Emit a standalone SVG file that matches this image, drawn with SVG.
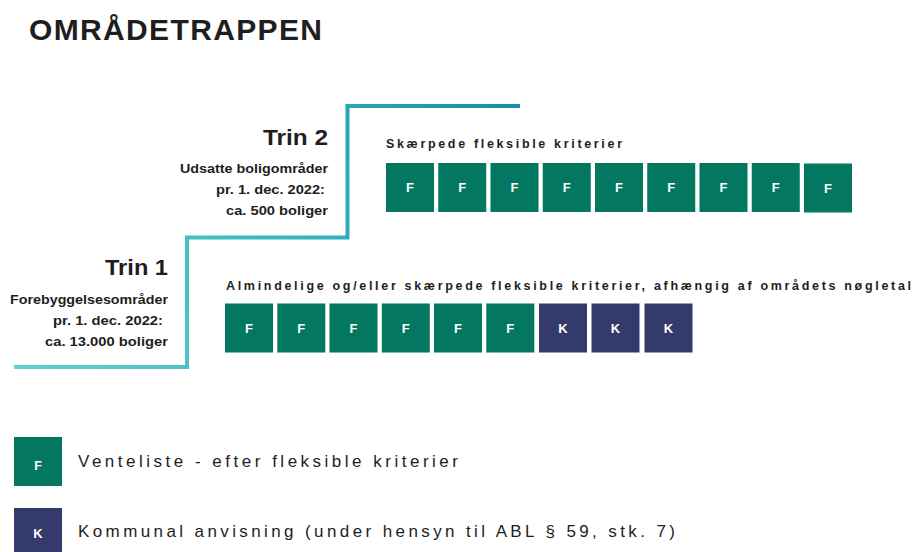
<svg xmlns="http://www.w3.org/2000/svg" width="913" height="552" viewBox="0 0 913 552">
<defs>
<linearGradient id="stairGrad" gradientUnits="userSpaceOnUse" x1="14" y1="367" x2="520" y2="106">
<stop offset="0" stop-color="#5fd1cf"/>
<stop offset="0.45" stop-color="#3fbcc2"/>
<stop offset="1" stop-color="#148fa7"/>
</linearGradient>
<style>
text{font-family:"Liberation Sans",Arial,sans-serif;fill:#1e1e1e}
.title{font-size:30px;font-weight:bold}
.trin{font-size:22px;font-weight:bold}
.desc{font-size:13.5px;font-weight:bold}
.hdr{font-size:12.5px;font-weight:bold}
.leg{font-size:17px}
.f{fill:#03775f}
.k{fill:#353a6c}
.bl{fill:#ffffff;font-size:13px;font-weight:bold;text-anchor:middle}
.stair{fill:none;stroke:url(#stairGrad);stroke-width:4;stroke-linejoin:miter}
</style>
<rect id="boxF" class="f" width="48" height="49"/>
<rect id="boxK" class="k" width="48" height="49"/>
</defs>
<rect width="913" height="552" fill="#ffffff"/>
<text class="title" x="29" y="40" textLength="293" lengthAdjust="spacing">OMRÅDETRAPPEN</text>

<g id="connectors">
<path class="stair" d="M14,367 H187 V237.5 H347.5 V106 H520"/>
</g>

<g id="trin2-label">
<text class="trin" x="263" y="145" textLength="65" lengthAdjust="spacingAndGlyphs">Trin 2</text>
<text class="desc" x="180" y="173" textLength="148" lengthAdjust="spacingAndGlyphs">Udsatte boligområder</text>
<text class="desc" x="216" y="194" textLength="109" lengthAdjust="spacingAndGlyphs">pr. 1. dec. 2022:</text>
<text class="desc" x="226" y="215" textLength="102" lengthAdjust="spacingAndGlyphs">ca. 500 boliger</text>
</g>

<g id="trin1-label">
<text class="trin" x="105" y="275" textLength="63" lengthAdjust="spacingAndGlyphs">Trin 1</text>
<text class="desc" x="10" y="304" textLength="158" lengthAdjust="spacingAndGlyphs">Forebyggelsesområder</text>
<text class="desc" x="53" y="325" textLength="110" lengthAdjust="spacingAndGlyphs">pr. 1. dec. 2022:</text>
<text class="desc" x="45" y="346" textLength="123" lengthAdjust="spacingAndGlyphs">ca. 13.000 boliger</text>
</g>

<g id="trin2-row">
<text class="hdr" x="386" y="148" textLength="236" lengthAdjust="spacing">Skærpede fleksible kriterier</text>
<g id="t2-b1"><use href="#boxF" x="386" y="163"/><text class="bl" x="410" y="192">F</text></g>
<g id="t2-b2"><use href="#boxF" x="438.25" y="163"/><text class="bl" x="462.25" y="192">F</text></g>
<g id="t2-b3"><use href="#boxF" x="490.5" y="163"/><text class="bl" x="514.5" y="192">F</text></g>
<g id="t2-b4"><use href="#boxF" x="542.75" y="163"/><text class="bl" x="566.75" y="192">F</text></g>
<g id="t2-b5"><use href="#boxF" x="595" y="163"/><text class="bl" x="619" y="192">F</text></g>
<g id="t2-b6"><use href="#boxF" x="647.25" y="163"/><text class="bl" x="671.25" y="192">F</text></g>
<g id="t2-b7"><use href="#boxF" x="699.5" y="163"/><text class="bl" x="723.5" y="192">F</text></g>
<g id="t2-b8"><use href="#boxF" x="751.75" y="163"/><text class="bl" x="775.75" y="192">F</text></g>
<g id="t2-b9"><use href="#boxF" x="804" y="163.5"/><text class="bl" x="828" y="193">F</text></g>
</g>

<g id="trin1-row">
<text class="hdr" x="226" y="289.5" textLength="685" lengthAdjust="spacing">Almindelige og/eller skærpede fleksible kriterier, afhængig af områdets nøgletal</text>
<g id="t1-b1"><use href="#boxF" x="225" y="303.5"/><text class="bl" x="249" y="332.5">F</text></g>
<g id="t1-b2"><use href="#boxF" x="277.3" y="303.5"/><text class="bl" x="301.3" y="332.5">F</text></g>
<g id="t1-b3"><use href="#boxF" x="329.5" y="303.5"/><text class="bl" x="353.5" y="332.5">F</text></g>
<g id="t1-b4"><use href="#boxF" x="381.8" y="303.5"/><text class="bl" x="405.8" y="332.5">F</text></g>
<g id="t1-b5"><use href="#boxF" x="434" y="303.5"/><text class="bl" x="458" y="332.5">F</text></g>
<g id="t1-b6"><use href="#boxF" x="486.3" y="303.5"/><text class="bl" x="510.3" y="332.5">F</text></g>
<g id="t1-b7"><use href="#boxK" x="539" y="303.5"/><text class="bl" x="563" y="333">K</text></g>
<g id="t1-b8"><use href="#boxK" x="591.5" y="303.5"/><text class="bl" x="615.5" y="333">K</text></g>
<g id="t1-b9"><use href="#boxK" x="644.5" y="303.5"/><text class="bl" x="668.5" y="333">K</text></g>
</g>

<g id="legend-f">
<use href="#boxF" x="14" y="437"/>
<text class="bl" x="38" y="469.5" style="font-size:12.5px">F</text>
<text class="leg" x="78" y="467" textLength="380" lengthAdjust="spacing">Venteliste - efter fleksible kriterier</text>
</g>
<g id="legend-k">
<use href="#boxK" x="14" y="508"/>
<text class="bl" x="38" y="538" style="font-size:13px">K</text>
<text class="leg" x="78" y="537" textLength="597" lengthAdjust="spacing">Kommunal anvisning (under hensyn til ABL § 59, stk. 7)</text>
</g>
</svg>
